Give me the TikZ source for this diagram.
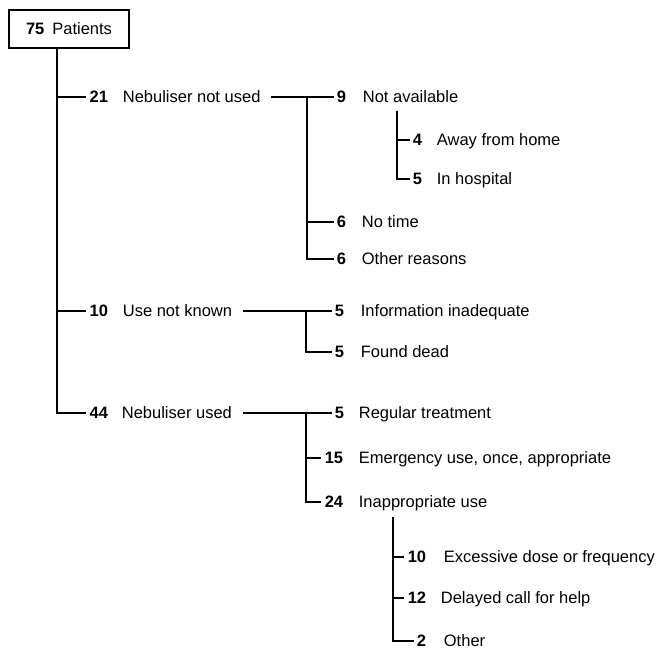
\documentclass[tikz,border=0pt]{standalone}
\usepackage{fontspec}
\setmainfont{Liberation Sans}
\usetikzlibrary{positioning}
\tikzset{
  num/.style={font=\bfseries, inner sep=0pt, anchor=east},
  lab/.style={inner sep=0pt},
  branch/.style={shorten >=2.5pt},
}
\begin{document}
\fontsize{16.5}{20}\selectfont
\begin{tikzpicture}[x=1pt, y=-1pt, line width=1.8pt]
	\useasboundingbox (0,0) rectangle (656,650);
	
	% --- Root box ---
	\node[draw, minimum width=120pt, minimum height=38pt, inner sep=0pt] (root) at (69,29) {\textbf{75}\hspace{8pt}Patients};
	
	% --- Level 1 ---
	\node[num] (n21) at (109,97) {21};
	\node[lab, base right=13pt of n21] (l21) {Nebuliser not used};
	\node[num] (n10) at (109,311) {10};
	\node[lab, base right=13pt of n10] (l10) {Use not known};
	\node[num] (n44) at (109,413) {44};
	\node[lab, base right=12pt of n44] (l44) {Nebuliser used};
	
	% --- Nebuliser not used ---
	\node[num] (n9) at (347,97) {9};
	\node[lab, base right=15pt of n9] (l9) {Not available};
	\node[num] (n4) at (423,140) {4};
	\node[lab, base right=13pt of n4] (l4) {Away from home};
	\node[num] (n5a) at (423,179) {5};
	\node[lab, base right=13pt of n5a] (l5a) {In hospital};
	\node[num] (n6a) at (347,222) {6};
	\node[lab, base right=14pt of n6a] (l6a) {No time};
	\node[num] (n6b) at (347,259) {6};
	\node[lab, base right=14pt of n6b] (l6b) {Other reasons};
	
	% --- Use not known ---
	\node[num] (n5b) at (345,311) {5};
	\node[lab, base right=15pt of n5b] (l5b) {Information inadequate};
	\node[num] (n5c) at (345,352) {5};
	\node[lab, base right=15pt of n5c] (l5c) {Found dead};
	
	% --- Nebuliser used ---
	\node[num] (n5d) at (345,413) {5};
	\node[lab, base right=13pt of n5d] (l5d) {Regular treatment};
	\node[num] (n15) at (344,458) {15};
	\node[lab, base right=14pt of n15] (l15) {Emergency use, once, appropriate};
	\node[num] (n24) at (344,502) {24};
	\node[lab, base right=14pt of n24] (l24) {Inappropriate use};
	\node[num] (n10b) at (427,557) {10};
	\node[lab, base right=16pt of n10b] (l10b) {Excessive dose or frequency};
	\node[num] (n12) at (427,598) {12};
	\node[lab, base right=13pt of n12] (l12) {Delayed call for help};
	\node[num] (n2) at (427,641) {2};
	\node[lab, base right=16pt of n2] (l2) {Other};
	
	% --- Junctions ---
	\coordinate (t0) at (57,48);
	\coordinate (jA) at (307,97);
	\coordinate (j9) at (397,111);
	\coordinate (jB) at (306,311);
	\coordinate (jC) at (306,413);
	\coordinate (j24) at (393,517);
	
	% --- Tree lines ---
	\draw[branch] (t0) |- (n44.west);
	\draw[branch] (t0 |- n21.west) -- (n21.west);
	\draw[branch] (t0 |- n10.west) -- (n10.west);
	
	\draw[branch] (l21.east |- n9.west) ++(10,0) -- (n9.west);
	\draw[branch] (jA) |- (n6b.west);
	\draw[branch] (jA |- n6a.west) -- (n6a.west);
	\draw[branch] (j9) |- (n5a.west);
	\draw[branch] (j9 |- n4.west) -- (n4.west);
	
	\draw[branch] (l10.east |- n5b.west) ++(10,0) -- (n5b.west);
	\draw[branch] (jB) |- (n5c.west);
	
	\draw[branch] (l44.east |- n5d.west) ++(10,0) -- (n5d.west);
	\draw[branch] (jC) |- (n24.west);
	\draw[branch] (jC |- n15.west) -- (n15.west);
	\draw[branch] (j24) |- (n2.west);
	\draw[branch] (j24 |- n10b.west) -- (n10b.west);
	\draw[branch] (j24 |- n12.west) -- (n12.west);
	
\end{tikzpicture}
\end{document}
